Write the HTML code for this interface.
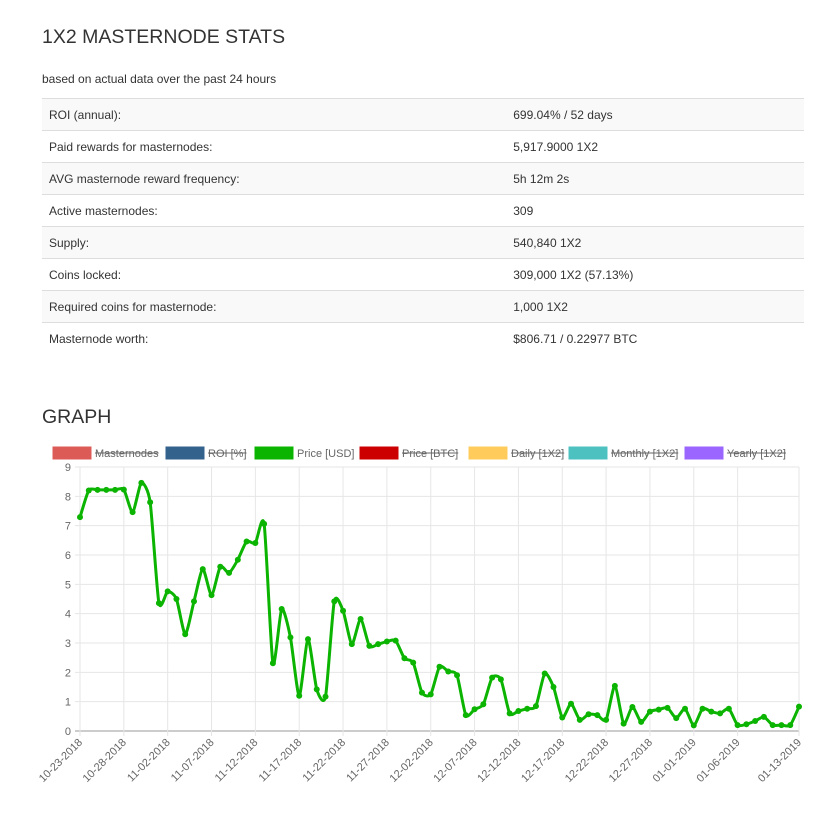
<!DOCTYPE html>
<html><head><meta charset="utf-8">
<style>
body{margin:0;background:#fff;font-family:"Liberation Sans","DejaVu Sans",sans-serif;color:#333;width:831px;height:813px;overflow:hidden;position:relative}
h1{position:absolute;left:42px;top:26px;margin:0;font-weight:normal;font-size:19.5px;color:#333}
.sub{position:absolute;left:42px;top:72px;font-size:12px;color:#333}
table{position:absolute;left:42px;top:98px;width:762px;border-collapse:collapse;font-size:12px}
td{height:31px;border-top:1px solid #ddd;padding:0 0 0 7px;vertical-align:middle}
tr:nth-child(odd) td{background:#f9f9f9}
td.v{width:288px}
td.k{width:453px}
h2{position:absolute;left:42px;top:406px;margin:0;font-weight:normal;font-size:19.5px;color:#333}
svg{position:absolute;left:0;top:0}
</style></head><body>
<h1>1X2 MASTERNODE STATS</h1>
<div class="sub">based on actual data over the past 24 hours</div>
<table>
<tr><td class="k">ROI (annual):</td><td class="v">699.04% / 52 days</td></tr>
<tr><td class="k">Paid rewards for masternodes:</td><td class="v">5,917.9000 1X2</td></tr>
<tr><td class="k">AVG masternode reward frequency:</td><td class="v">5h 12m 2s</td></tr>
<tr><td class="k">Active masternodes:</td><td class="v">309</td></tr>
<tr><td class="k">Supply:</td><td class="v">540,840 1X2</td></tr>
<tr><td class="k">Coins locked:</td><td class="v">309,000 1X2 (57.13%)</td></tr>
<tr><td class="k">Required coins for masternode:</td><td class="v">1,000 1X2</td></tr>
<tr><td class="k">Masternode worth:</td><td class="v">$806.71 / 0.22977 BTC</td></tr>
</table>
<h2>GRAPH</h2>
<svg id="chart" width="831" height="813"></svg>
<script>
const legendLabels=["Masternodes","ROI [%]","Price [USD]","Price [BTC]","Daily [1X2]","Monthly [1X2]","Yearly [1X2]"];
const legendColors=["#dc5b57","#33628c","#0bb400","#cc0000","#ffcc5c","#4dc0c0","#9a66ff"];
const legendHidden=[true,true,false,true,true,true,true];
const legendX=[52,165,254,359,468,568,684];
const yTicks=[0,1,2,3,4,5,6,7,8,9];
const priceUSD=[7.29,8.2,8.22,8.22,8.22,8.23,7.46,8.46,7.8,4.36,4.76,4.5,3.3,4.42,5.52,4.63,5.6,5.39,5.84,6.46,6.41,7.06,2.31,4.16,3.19,1.2,3.13,1.42,1.17,4.42,4.1,2.96,3.82,2.9,2.96,3.05,3.08,2.48,2.33,1.31,1.25,2.19,2.03,1.9,0.54,0.74,0.91,1.82,1.76,0.6,0.68,0.76,0.85,1.96,1.5,0.46,0.93,0.38,0.57,0.54,0.38,1.54,0.25,0.82,0.31,0.66,0.73,0.79,0.44,0.76,0.19,0.76,0.66,0.6,0.76,0.2,0.23,0.34,0.48,0.2,0.2,0.2,0.83];
const tickIndex=[0,5,10,15,20,25,30,35,40,45,50,55,60,65,70,75,82];
const tickLabels=["10-23-2018","10-28-2018","11-02-2018","11-07-2018","11-12-2018","11-17-2018","11-22-2018","11-27-2018","12-02-2018","12-07-2018","12-12-2018","12-17-2018","12-22-2018","12-27-2018","01-01-2019","01-06-2019","01-13-2019"];
const NS="http://www.w3.org/2000/svg";
const svg=document.getElementById('chart');
const X0=80,X1=799,Y0=731,Y1=467,YMAX=9;
const n=priceUSD.length;
function xs(i){return X0+(X1-X0)*i/(n-1);}
function ys(v){return Y0-(Y0-Y1)*v/YMAX;}
function mk(t,a,p){const e=document.createElementNS(NS,t);for(const k in a)e.setAttribute(k,a[k]);(p||svg).appendChild(e);return e;}
yTicks.forEach(v=>{
  const l=mk('line',{x1:X0-5,x2:X1,y1:ys(v),y2:ys(v),stroke:v===0?'#ccc':'#e6e6e6','stroke-width':v===0?2:1});
  
  
  const t=mk('text',{x:X0-9,y:ys(v)+4,'text-anchor':'end','font-size':11,fill:'#666'});
  t.textContent=v;
  
  
});
tickIndex.forEach((idx,k)=>{
  const x=xs(idx);
  const l=mk('line',{x1:x,x2:x,y1:Y1,y2:Y0+5,stroke:'#e6e6e6','stroke-width':1});
  
  
  const t=mk('text',{x:x+3,y:Y0+12,'text-anchor':'end','font-size':11,fill:'#666',transform:`rotate(-45 ${x+3} ${Y0+12})`});
  t.textContent=tickLabels[k];
  
  
});
const pts=priceUSD.map((v,i)=>[xs(i),ys(v)]);
let d=`M${pts[0][0]},${pts[0][1]}`;
const tn=0.22;
for(let i=0;i<n-1;i++){
  const p0=pts[Math.max(0,i-1)],p1=pts[i],p2=pts[i+1],p3=pts[Math.min(n-1,i+2)];
  const c1=[p1[0]+(p2[0]-p0[0])*tn/2,p1[1]+(p2[1]-p0[1])*tn/2];
  const c2=[p2[0]-(p3[0]-p1[0])*tn/2,p2[1]-(p3[1]-p1[1])*tn/2];
  d+=`C${c1[0]},${c1[1]} ${c2[0]},${c2[1]} ${p2[0]},${p2[1]}`;
}
const path=mk('path',{d:d,fill:'none',stroke:'#0bb400','stroke-width':3,'stroke-linejoin':'round'});


pts.forEach(p=>{
  const c=mk('circle',{cx:p[0],cy:p[1],r:3,fill:'#0bb400'});
  
  
});
legendLabels.forEach((lab,i)=>{
  const g=mk('g',{});
  
  
  mk('rect',{x:legendX[i],y:446,width:40,height:14,fill:legendColors[i],stroke:'#fff','stroke-width':1},g);
  const t=mk('text',{x:legendX[i]+43,y:457,'font-size':11,fill:'#666'},g);
  t.textContent=lab;
  if(legendHidden[i]){
    const w=t.getComputedTextLength();
    mk('line',{x1:legendX[i]+43,x2:legendX[i]+43+w,y1:453,y2:453,stroke:'#666','stroke-width':1},g);
  }
});
</script>
</body></html>
